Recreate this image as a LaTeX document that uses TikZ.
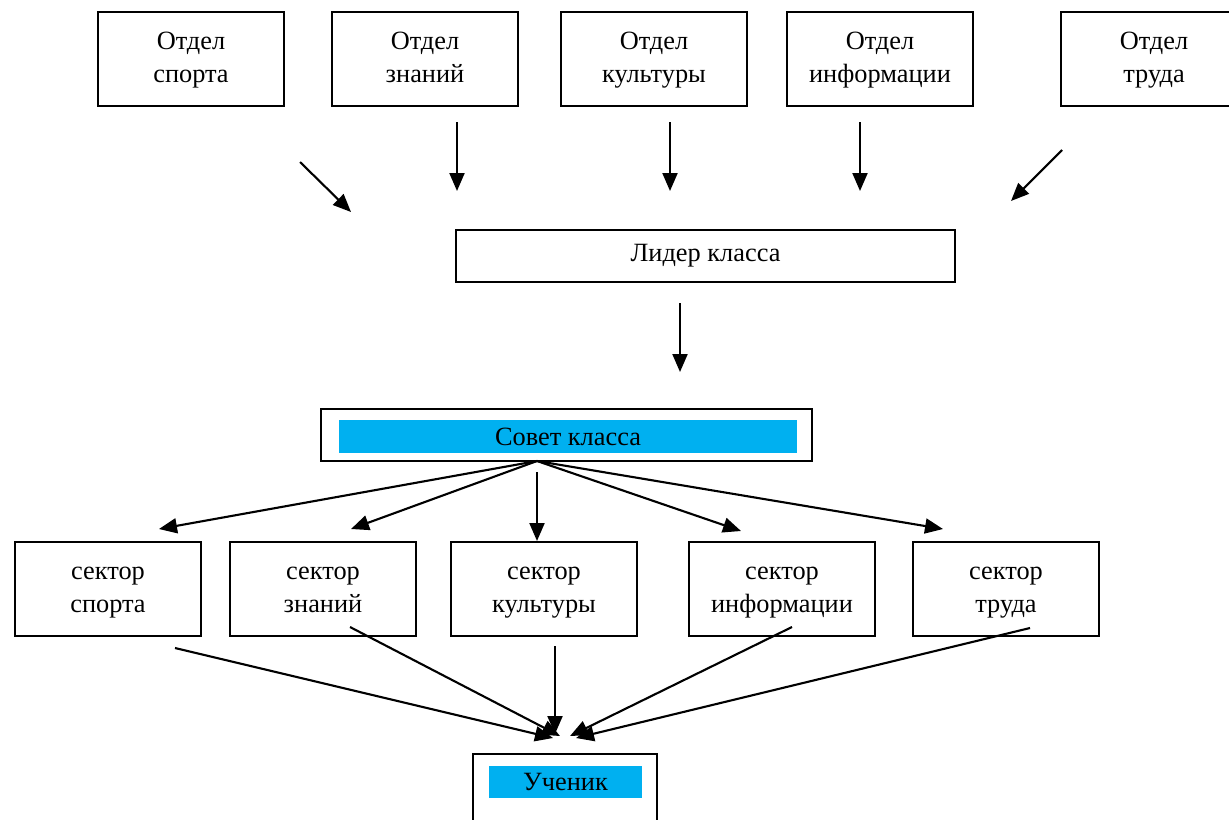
\documentclass[tikz,border=0pt]{standalone}
\usepackage{fontspec}
\setmainfont{Liberation Serif}
\usetikzlibrary{arrows.meta}
\definecolor{sovetblue}{HTML}{00B0F0}
\newcommand{\dvestroki}[2]{\strut #1\\\strut #2}
\tikzset{
  >={Triangle[length=0.36cm,width=0.3cm]},
  punkt/.style={
    rectangle,
    draw=black, line width=1.1pt,
    minimum width=3.72cm,
    minimum height=1.88cm,
    align=center
  },
  plashka/.style={
    rectangle,
    fill=sovetblue,
    inner sep=0pt
  },
  line/.style={draw, line width=1.2pt, ->},
}
\begin{document}
\begin{tikzpicture}
      [x=0.02cm, y=-0.02cm, font=\fontsize{15}{18.8}\selectfont]
      \useasboundingbox (0,0) rectangle (1229,819);
      % otdely
      \node[punkt] (osport) at (191,59) {\dvestroki{Отдел}{спорта}};
      \node[punkt] (oznan) at (425,59) {\dvestroki{Отдел}{знаний}};
      \node[punkt] (okult) at (654,59) {\dvestroki{Отдел}{культуры}};
      \node[punkt] (oinfo) at (880,59) {\dvestroki{Отдел}{информации}};
      \node[punkt] (otrud) at (1154,59) {\dvestroki{Отдел}{труда}};
      % lider
      \node[punkt, minimum width=9.98cm, minimum height=1.04cm] (lider) at (705.5,256) {Лидер класса};
      % sovet
      \node[punkt, minimum width=9.82cm, minimum height=1.04cm] (sovet) at (566.5,435) {};
      \node[plashka, minimum width=9.16cm, minimum height=0.66cm] (sovettag) at (568,436.5) {Совет класса};
      % sektory
      \node[punkt] (ssport) at (108,589) {\dvestroki{сектор}{спорта}};
      \node[punkt] (sznan) at (323,589) {\dvestroki{сектор}{знаний}};
      \node[punkt] (skult) at (544,589) {\dvestroki{сектор}{культуры}};
      \node[punkt] (sinfo) at (782,589) {\dvestroki{сектор}{информации}};
      \node[punkt] (strud) at (1006,589) {\dvestroki{сектор}{труда}};
      % uchenik
      \node[punkt, minimum width=3.68cm] (uchenik) at (565,801) {};
      \node[plashka, minimum width=3.06cm, minimum height=0.64cm] (uchteg) at (565.5,782) {Ученик};

      % free ends of the arrows
      \coordinate (a1) at (300,162);  \coordinate (b1) at (351,212);
      \coordinate (a2) at (457,122);  \coordinate (b2) at (457,191);
      \coordinate (a3) at (670,122);  \coordinate (b3) at (670,191);
      \coordinate (a4) at (860,122);  \coordinate (b4) at (860,191);
      \coordinate (a5) at (1062,150); \coordinate (b5) at (1011,201);
      \coordinate (l1) at (680,303);  \coordinate (l2) at (680,372);
      \coordinate (sv) at (537,461);  \coordinate (sv0) at (537,472);
      \coordinate (c1) at (159,529);  \coordinate (c2) at (351,529);
      \coordinate (c3) at (537,541);  \coordinate (c4) at (741,531);
      \coordinate (c5) at (943,529);
      \coordinate (d1) at (175,648);  \coordinate (e1) at (553,738);
      \coordinate (d2) at (350,627);  \coordinate (e2) at (560,736);
      \coordinate (d3) at (555,646);  \coordinate (e3) at (555,734);
      \coordinate (d4) at (792,627);  \coordinate (e4) at (570,736);
      \coordinate (d5) at (1030,628); \coordinate (e5) at (576,738);

      \foreach \i in {1,...,5}
        \draw[line] (a\i) -- (b\i);
      \draw[line] (l1) -- (l2);
      \draw[line] (sv) -- (c1);
      \draw[line] (sv) -- (c2);
      \draw[line] (sv0) -- (c3);
      \draw[line] (sv) -- (c4);
      \draw[line] (sv) -- (c5);
      \foreach \i in {1,...,5}
        \draw[line] (d\i) -- (e\i);
    \end{tikzpicture}
\end{document}
